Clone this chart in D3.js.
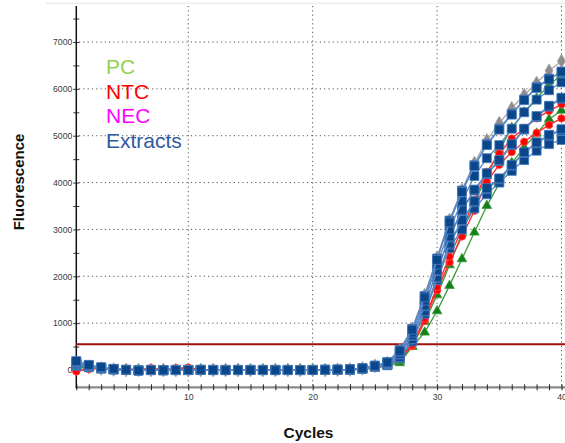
<!DOCTYPE html>
<html>
<head>
<meta charset="utf-8">
<script src="https://cdn.jsdelivr.net/npm/d3@7"></script>
<style>
  body { margin: 0; background: #fff; }
  svg { display: block; font-family: "Liberation Sans", Arial, sans-serif; }
</style>
</head>
<body>
<svg></svg>
<script>
// cycles 1..40
var cycles = d3.range(1, 41);

// fluorescence per cycle
var extract1 = [190,110,60,25,5,-10,0,-5,0,0,5,0,-5,0,0,0,-5,0,0,0,5,10,15,35,90,160,410,860,1550,2350,3150,3800,4350,4800,5130,5450,5760,6020,6200,6370];
var extract2 = [170,100,50,20,0,-5,5,-5,0,5,0,0,0,5,0,0,0,0,0,5,5,10,15,40,95,170,430,880,1580,2380,3190,3830,4370,4820,5150,5470,5770,6040,6220,6350];
var extract3 = [150,90,45,15,0,-10,0,-5,5,0,0,-5,0,0,0,5,0,0,-5,0,5,5,10,35,85,150,380,800,1480,2250,3000,3600,4140,4520,4800,5150,5500,5770,5970,6140];
var extract4 = [130,80,40,20,5,-5,0,0,0,0,5,0,0,-5,0,0,0,5,0,0,0,5,10,30,80,140,340,740,1380,2130,2850,3420,3850,4200,4480,4820,5150,5420,5640,5810];
var extract5 = [120,70,35,15,0,-10,-5,0,0,0,0,0,5,0,0,-5,0,0,0,0,5,5,10,30,80,130,330,730,1360,2110,2830,3400,3830,4180,4460,4800,5130,5400,5620,5790];
var extract6 = [110,75,40,20,0,-5,0,0,-5,0,0,0,0,0,5,0,0,0,0,0,0,5,5,25,75,120,280,660,1260,1980,2700,3200,3600,3880,4090,4380,4650,4860,5020,5140];
var extract7 = [100,65,35,15,0,-10,0,-5,0,0,0,5,0,0,0,0,0,-5,0,0,0,0,5,25,70,110,270,650,1250,1960,2680,3180,3580,3860,4070,4360,4630,4840,5000,5110];
var extract8 = [90,60,30,10,0,-5,0,0,0,-5,0,0,0,0,0,0,5,0,0,0,0,0,5,20,70,100,250,610,1200,1920,2600,3000,3450,3750,4000,4250,4480,4680,4820,4910];
var red1 = [-30,30,40,20,30,0,40,0,40,50,10,0,5,0,0,5,0,0,5,0,0,5,10,20,60,110,270,540,1100,1770,2420,3000,3630,4230,4620,4940,5160,5370,5530,5670];
var red2 = [-20,20,30,10,20,5,30,5,30,40,15,5,0,5,0,0,5,0,0,5,0,5,5,20,50,100,250,510,1050,1700,2300,2850,3400,4020,4380,4650,4870,5060,5230,5370];
var green1 = [60,50,30,10,0,0,-5,0,0,0,0,0,0,0,0,0,0,0,0,0,0,5,10,20,50,100,200,500,1030,1600,2240,2920,3570,4150,4695,5170,5500,5800,6080,6300];
var green2 = [50,40,20,10,0,-5,0,0,0,0,0,0,0,0,0,0,0,0,0,0,0,0,5,15,40,90,150,497,804,1259,1800,2369,2938,3507,3984,4420,4750,5050,5350,5540];
var gray1 = [80,60,30,10,0,0,0,0,0,0,0,0,0,0,0,0,0,0,0,0,0,5,10,35,90,150,420,880,1600,2400,3200,3840,4417,4900,5270,5585,5868,6125,6387,6594];

var threshold = 550;
var yTicks = [0,1000,2000,3000,4000,5000,6000,7000];
var yMinor = [500,1500,2500,3500,4500,5500,6500,7500];
var xTickLabels = [10,20,30,40];
var legendNames = ["PC","NTC","NEC","Extracts"];
var legendColors = ["#92d050","#ff0000","#ff00ff","#2f5a9e"];

var W = 565, H = 443;
var svg = d3.select('svg').attr('width', W).attr('height', H);

var x = d3.scaleLinear().domain([1, 40]).range([76.3, 561.5]);
var y = d3.scaleLinear().domain([0, 7000]).range([370, 42]);
var yTop = 6, yBot = 387.3;

// faint band at top
svg.append('rect').attr('x', 46).attr('y', 2.5).attr('width', W - 46).attr('height', 1.5).attr('fill', '#ececec');

// dotted grid
svg.append('g').selectAll('line').data(yTicks.slice(1)).enter().append('line')
  .attr('x1', 79).attr('x2', W).attr('y1', d => y(d)).attr('y2', d => y(d))
  .attr('stroke', '#555').attr('stroke-width', 1).attr('stroke-dasharray', '1.2,3.1');
svg.append('g').selectAll('line').data(xTickLabels).enter().append('line')
  .attr('x1', d => x(d)).attr('x2', d => x(d)).attr('y1', yTop).attr('y2', yBot)
  .attr('stroke', '#555').attr('stroke-width', 1).attr('stroke-dasharray', '1.2,3.1');

// x axis
svg.append('line').attr('x1', 76).attr('x2', W).attr('y1', yBot).attr('y2', yBot)
  .attr('stroke', '#8a8a8a').attr('stroke-width', 2.2);
var xAxis = d3.axisBottom(x).tickValues(cycles).tickSize(3).tickFormat(d => xTickLabels.includes(d) ? d : '');
var gx = svg.append('g').attr('transform', 'translate(0,' + (yBot - 3) + ')').call(xAxis);
gx.select('.domain').remove();
gx.selectAll('.tick line').attr('y2', 6).attr('stroke', '#222');
gx.selectAll('.tick text').attr('y', 10).attr('font-size', 8.7).attr('fill', '#3a3a3a').attr('font-family', '"Liberation Sans", Arial, sans-serif');

// y axis
var yAxis = d3.axisLeft(y).tickValues(yTicks.concat(yMinor)).tickSize(3)
  .tickFormat(d => yTicks.includes(d) ? d : '');
var gy = svg.append('g').attr('transform', 'translate(76.3,0)').call(yAxis);
gy.select('.domain').remove();
gy.selectAll('.tick line').attr('x2', 3).attr('x1', -3).attr('stroke', '#333');
gy.selectAll('.tick text').attr('x', -4).attr('font-size', 8.7).attr('fill', '#3a3a3a').attr('font-family', '"Liberation Sans", Arial, sans-serif');
svg.append('line').attr('x1', 76.3).attr('x2', 76.3).attr('y1', yTop).attr('y2', yBot + 1)
  .attr('stroke', '#111').attr('stroke-width', 1.5);

// threshold
svg.append('line').attr('x1', 76.3).attr('x2', W).attr('y1', y(threshold)).attr('y2', y(threshold))
  .attr('stroke', '#a01010').attr('stroke-width', 2);

var blue = { line: '#5a88c6', fill: '#0a468a', edge: '#4a7cbc', sym: d3.symbolSquare, size: 80 };
var series = [
  { v: gray1, line: '#a8a8a8', fill: '#8c8c8c', edge: '#a8a8a8', sym: d3.symbolDiamond, size: 55 },
  { v: green2, line: '#3a9a3a', fill: '#14801a', edge: '#3a9a3a', sym: d3.symbolTriangle, size: 40 },
  { v: green1, line: '#3a9a3a', fill: '#14801a', edge: '#3a9a3a', sym: d3.symbolTriangle, size: 40 },
  { v: red2, line: '#ff2a2a', fill: '#ff0000', edge: '#ff5050', sym: d3.symbolCircle, size: 44 },
  { v: red1, line: '#ff2a2a', fill: '#ff0000', edge: '#ff5050', sym: d3.symbolCircle, size: 44 }
];
[extract8, extract7, extract6, extract5, extract4, extract3, extract2, extract1].forEach(function (v) {
  series.push(Object.assign({ v: v }, blue));
});

var line = d3.line().x((d, i) => x(cycles[i])).y(d => y(d));

series.forEach(function (s) {
  var g = svg.append('g');
  g.append('path').attr('d', line(s.v)).attr('fill', 'none')
    .attr('stroke', s.line).attr('stroke-width', 1.3);
  g.selectAll('path.m').data(s.v).enter().append('path').attr('class', 'm')
    .attr('d', d3.symbol().type(s.sym).size(s.size))
    .attr('transform', (d, i) => 'translate(' + x(cycles[i]) + ',' + y(d) + ')')
    .attr('fill', s.fill).attr('stroke', s.edge).attr('stroke-width', 0.8);
});

// legend
svg.append('g').selectAll('text').data(legendNames).enter().append('text')
  .attr('x', 106).attr('y', (d, i) => 74 + i * 24.7)
  .attr('font-size', 21).attr('fill', (d, i) => legendColors[i])
  .text(d => d);

// axis titles
svg.append('text').attr('x', 308.5).attr('y', 438).attr('text-anchor', 'middle')
  .attr('font-size', 15.5).attr('font-weight', 'bold').attr('fill', '#111').text('Cycles');
svg.append('text').attr('transform', 'translate(24,182) rotate(-90)').attr('text-anchor', 'middle')
  .attr('font-size', 15).attr('font-weight', 'bold').attr('fill', '#111').text('Fluorescence');
</script>
</body>
</html>
